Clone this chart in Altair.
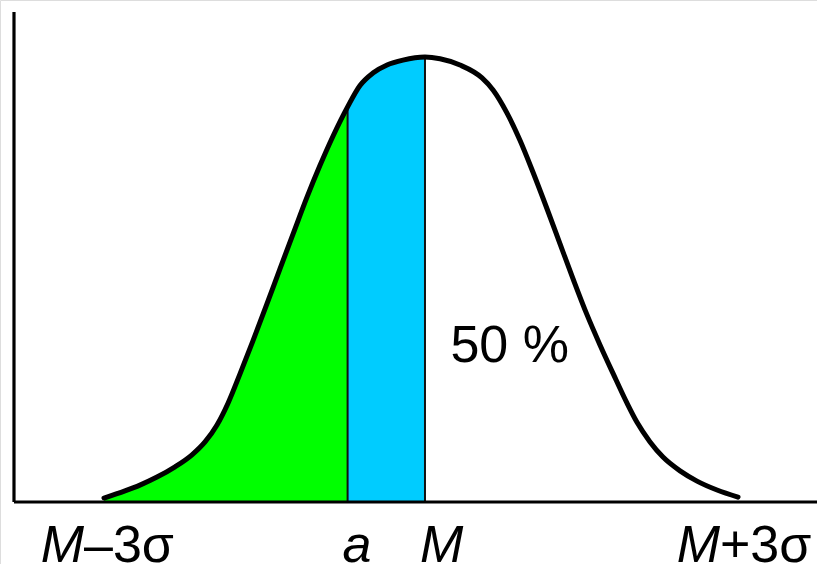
import altair as alt
import pandas as pd

# Bell curve in sigma units (x) and relative height (y, peak = 1)
curve_x = [-3.028, -2.830, -2.689, -2.528, -2.358, -2.198, -2.075, -1.962, -1.858,
           -1.745, -1.623, -1.491, -1.368, -1.245, -1.113, -0.991, -0.868, -0.73,
           -0.613, -0.491, -0.358, -0.208, 0.0,
           0.142, 0.330, 0.538, 0.642, 0.774, 0.896, 1.019, 1.151, 1.274, 1.396,
           1.528, 1.651, 1.774, 1.906, 2.000, 2.123, 2.245, 2.406, 2.566, 2.755, 2.953]
curve_y = [0.009, 0.025, 0.038, 0.056, 0.079, 0.106, 0.135, 0.173, 0.222,
           0.288, 0.362, 0.445, 0.524, 0.602, 0.685, 0.756, 0.822, 0.888,
           0.936, 0.964, 0.982, 0.993, 1.0,
           0.996, 0.982, 0.953, 0.926, 0.874, 0.813, 0.741, 0.659, 0.580, 0.502,
           0.421, 0.353, 0.289, 0.222, 0.179, 0.135, 0.101, 0.070, 0.047, 0.027, 0.011]

A = -0.73          # position of "a"
MEAN = 0.0         # position of "M"

italic_head = ["M", "M"]          # italic part of the outer tick labels
italic_head_x = [-3, 3]
upright_tail = ["–3σ", "+3σ"]     # upright part of the outer tick labels
italic_single = ["a", "M"]
italic_single_x = [A, MEAN]

share_text = ["50 %"]
share_x = [0.24]
share_y = [0.315]

curve = pd.DataFrame({"x": curve_x, "y": curve_y})

xs = alt.Scale(domain=[-4.009, 3.698], nice=False, zero=False)
ys = alt.Scale(domain=[-0.1393, 1.1281], nice=False, zero=False)
X = lambda f: alt.X(f, type="quantitative", scale=xs, axis=None)
Y = lambda f: alt.Y(f, type="quantitative", scale=ys, axis=None)

base = alt.Chart(curve)

green = base.transform_filter(alt.datum.x <= A).mark_area(
    color="#00ff00", interpolate="monotone", opacity=1
).encode(x=X("x"), y=Y("y"), y2=alt.datum(0))

cyan = base.transform_filter(
    (alt.datum.x >= A) & (alt.datum.x <= MEAN)
).mark_area(color="#00ccff", interpolate="monotone", opacity=1).encode(
    x=X("x"), y=Y("y"), y2=alt.datum(0)
)

# vertical dividers at a and M
y_at = dict(zip(curve_x, curve_y))
dividers = alt.Chart(pd.DataFrame({"x": [A, MEAN], "y": [y_at[A], y_at[MEAN]]})).mark_rule(
    color="#111111", strokeWidth=2
).encode(x=X("x"), y=Y("y"), y2=alt.datum(0))

# axis lines
axes_df = pd.DataFrame({
    "x": [-3.877, -3.877], "x2": [-3.877, 3.698],
    "y": [0.0, 0.0], "y2": [1.101, 0.0],
})
axes = alt.Chart(axes_df).mark_rule(color="#000000", strokeWidth=3.2).encode(
    x=X("x"), x2="x2", y=Y("y"), y2="y2"
)

line = base.mark_line(
    color="#000000", strokeWidth=5, interpolate="monotone", strokeCap="round"
).encode(x=X("x"), y=Y("y"))

font = "Liberation Sans"
fs = 52

head = alt.Chart(pd.DataFrame({"t": italic_head, "x": italic_head_x, "y": 0})).mark_text(
    font=font, fontSize=fs, fontStyle="italic", align="right",
    baseline="alphabetic", dx=-23, dy=60, color="black"
).encode(x=X("x"), y=Y("y"), text="t:N")

tail = alt.Chart(pd.DataFrame({"t": upright_tail, "x": italic_head_x, "y": 0})).mark_text(
    font=font, fontSize=fs, align="left",
    baseline="alphabetic", dx=-23, dy=60, color="black"
).encode(x=X("x"), y=Y("y"), text="t:N")

single = alt.Chart(pd.DataFrame({"t": italic_single, "x": italic_single_x, "y": 0})).mark_text(
    font=font, fontSize=fs, fontStyle="italic", align="left",
    baseline="alphabetic", dx=-5, dy=60, color="black"
).encode(x=X("x"), y=Y("y"), text="t:N")

share = alt.Chart(pd.DataFrame({"t": share_text, "x": share_x, "y": share_y})).mark_text(
    font=font, fontSize=fs, align="left", baseline="alphabetic", color="black"
).encode(x=X("x"), y=Y("y"), text="t:N")

chart = alt.layer(green, cyan, dividers, axes, line, head, tail, single, share).properties(
    width=817, height=564,
    autosize=alt.AutoSizeParams(type="none"),
    padding=0,
).configure_view(stroke=None).configure(background="white")

chart.save("out.html", embed_options={"renderer": "svg", "actions": False})
